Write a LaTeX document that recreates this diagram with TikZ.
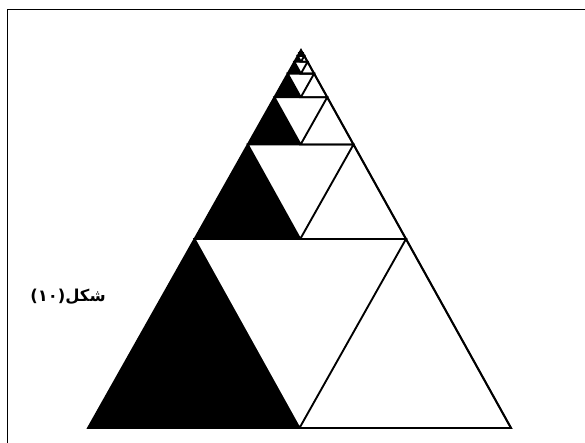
\documentclass[tikz,border=0pt]{standalone}
\usepackage{fontspec}
\usetikzlibrary{calc}
\TeXXeTstate=1
\newfontfamily\arabicfont[Script=Arabic]{DejaVu Sans}

\begin{document}
\begin{tikzpicture}[
    x=0.3mm, y=-0.3mm,
    frame/.style={draw, line width=0.5pt},
    edge/.style={draw, line width=1.6pt, line join=miter},
    caption/.style={font=\arabicfont\bfseries\fontsize{14}{18}\selectfont, inner sep=0pt}
]
    \useasboundingbox (0,0) rectangle (585,443);
    \path [frame] (7,443) -- (7,9) -- (585,9);

    \coordinate (apex)  at (301,50);
    \coordinate (left)  at (88,428);
    \coordinate (right) at (511,428);

    % each level: black left corner, white right corner, recurse on top
    \foreach \k in {0,...,6}{
        \pgfmathsetmacro\f{1/2^\k}
        \pgfmathsetmacro\g{\f/2}
        \coordinate (bl) at ($(apex)!\f!(left)$);
        \coordinate (br) at ($(apex)!\f!(right)$);
        \coordinate (tl) at ($(apex)!\g!(left)$);
        \coordinate (tr) at ($(apex)!\g!(right)$);
        \coordinate (bm) at ($(bl)!0.5!(br)$);
        \fill (bl) -- (bm) -- (tl) -- cycle;
        \path [edge] (bm) -- (tl) -- (tr) -- (bm) -- (br) -- (tr);
    }
    \path [edge] (left) -- (right) -- (apex) -- cycle;

    \node [caption] (fig) at (68,297) {\beginR شكل(١٠)\endR};
\end{tikzpicture}
\end{document}
